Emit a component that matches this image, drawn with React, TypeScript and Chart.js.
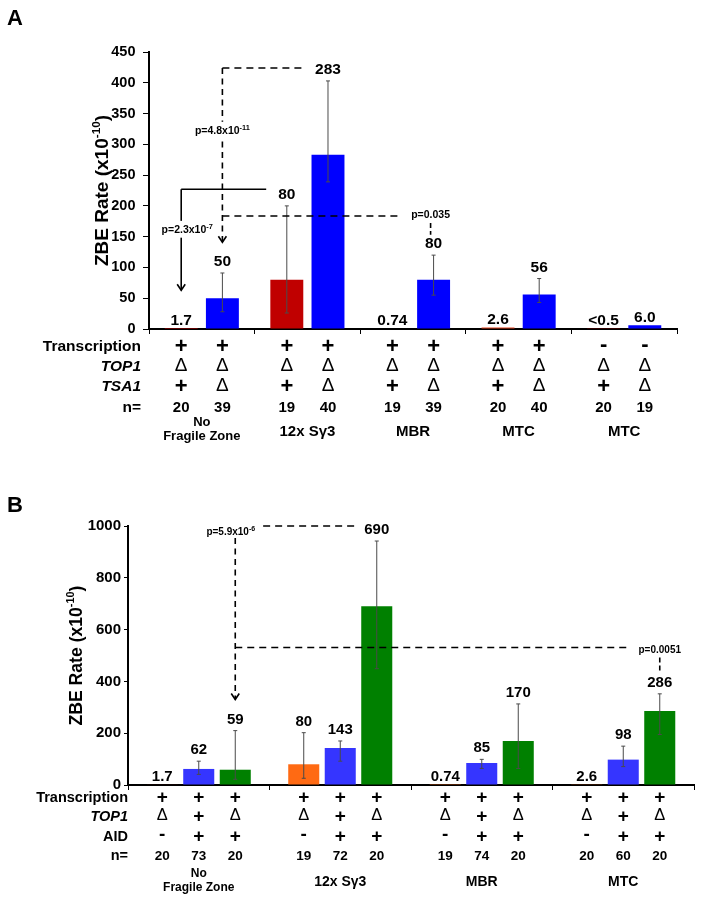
import React, { useEffect, useRef } from "react";
import { Chart, registerables } from "chart.js";

Chart.register(...registerables);

const FONT = '"Liberation Sans", Arial, Helvetica, sans-serif';

// ===================== Panel A data =====================
const groupsA = [["No", "Fragile Zone"], ["12x Sγ3"], ["MBR"], ["MTC"], ["MTC"]];
const tsa1PlusA = [1.7, 80, 0.74, 2.6, 0.5];
const tsa1DeltaA = [50, 283, 80, 56, 6.0];
const labelsPlusA = ["1.7", "80", "0.74", "2.6", "<0.5"];
const labelsDeltaA = ["50", "283", "80", "56", "6.0"];
const errLowPlusA = [null, 26, null, null, null];
const errHighPlusA = [null, 200, null, null, null];
const errLowDeltaA = [28, 239, 55, 43, null];
const errHighDeltaA = [91, 403, 120, 82, null];
const colorsPlusA = ["#c00000", "#c00000", "#c00000", "#e0401c", "#c00000"];
const colorDeltaA = "#0000ff";
const transcriptionA = ["+", "+", "+", "+", "+", "+", "+", "+", "-", "-"];
const top1A = ["Δ", "Δ", "Δ", "Δ", "Δ", "Δ", "Δ", "Δ", "Δ", "Δ"];
const tsa1A = ["+", "Δ", "+", "Δ", "+", "Δ", "+", "Δ", "+", "Δ"];
const nA = ["20", "39", "19", "40", "19", "39", "20", "40", "20", "19"];
const yMaxA = 450;
const yStepA = 50;
// significance annotations (values on the y scale)
const pLevelsA = [227, 424, 183.5];
const pTipsA = [63, 141, 153];
const pTextYA = [162, 323, 186];
const pMainA = ["p=2.3x10", "p=4.8x10", "p=0.035"];
const pExpA = ["-7", "-11", ""];

// ===================== Panel B data =====================
const groupsB = [["No", "Fragile Zone"], ["12x Sγ3"], ["MBR"], ["MTC"]];
const aidMinusB = [1.7, 80, 0.74, 2.6];
const top1PlusB = [62, 143, 85, 98];
const top1DeltaAidB = [59, 690, 170, 286];
const labelsMinusB = ["1.7", "80", "0.74", "2.6"];
const labelsPlusB = ["62", "143", "85", "98"];
const labelsDeltaB = ["59", "690", "170", "286"];
const errLowMinusB = [null, 26, null, null];
const errHighMinusB = [null, 202, null, null];
const errLowPlusB = [41, 92, 64, 71];
const errHighPlusB = [92, 170, 99, 150];
const errLowDeltaB = [22, 449, 64, 195];
const errHighDeltaB = [210, 942, 313, 352];
const colorMinusB = ["#e03010", "#ff6a13", "#ff6a13", "#ff6a13"];
const colorPlusB = "#3535ff";
const colorDeltaB = "#008000";
const transcriptionB = ["+", "+", "+", "+", "+", "+", "+", "+", "+", "+", "+", "+"];
const top1B = ["Δ", "+", "Δ", "Δ", "+", "Δ", "Δ", "+", "Δ", "Δ", "+", "Δ"];
const aidB = ["-", "+", "+", "-", "+", "+", "-", "+", "+", "-", "+", "+"];
const nB = ["20", "73", "20", "19", "72", "20", "19", "74", "20", "20", "60", "20"];
const yMaxB = 1000;
const yStepB = 200;
const pLevelsB = [1000, 531];
const pTipsB = [330, 439];
const pStartB = [954, 492];
const pMainB = ["p=5.9x10", "p=0.0051"];
const pExpB = ["-6", ""];

// ===================== helpers =====================
function line(ctx: any, x1: number, y1: number, x2: number, y2: number, dash: number[], w = 1.6) {
  ctx.save();
  ctx.strokeStyle = "#000";
  ctx.lineWidth = w;
  ctx.setLineDash(dash);
  ctx.beginPath();
  ctx.moveTo(x1, y1);
  ctx.lineTo(x2, y2);
  ctx.stroke();
  ctx.restore();
}

function arrowDown(ctx: any, x: number, y: number) {
  ctx.save();
  ctx.strokeStyle = "#000";
  ctx.lineWidth = 1.6;
  ctx.setLineDash([]);
  ctx.beginPath();
  ctx.moveTo(x - 4, y - 6);
  ctx.lineTo(x, y);
  ctx.lineTo(x + 4, y - 6);
  ctx.stroke();
  ctx.restore();
}

function measureP(ctx: any, main: string, exp: string, size: number) {
  ctx.font = `bold ${size}px ${FONT}`;
  const w1 = ctx.measureText(main).width;
  ctx.font = `bold ${size * 0.7}px ${FONT}`;
  const w2 = exp ? ctx.measureText(exp).width : 0;
  return w1 + w2;
}

function pLabel(ctx: any, cx: number, cy: number, main: string, exp: string, size: number, bg: boolean) {
  const w = measureP(ctx, main, exp, size);
  const x0 = cx - w / 2;
  if (bg) {
    ctx.fillStyle = "#fff";
    ctx.fillRect(x0 - 2, cy - size * 0.8, w + 4, size * 1.6);
  }
  ctx.fillStyle = "#000";
  ctx.textAlign = "left";
  ctx.textBaseline = "alphabetic";
  const base = cy + size * 0.36;
  ctx.font = `bold ${size}px ${FONT}`;
  ctx.fillText(main, x0, base);
  const w1 = ctx.measureText(main).width;
  if (exp) {
    ctx.font = `bold ${size * 0.7}px ${FONT}`;
    ctx.fillText(exp, x0 + w1, base - size * 0.42);
  }
  return { left: x0, right: x0 + w };
}

function drawYTitle(ctx: any, cx: number, cy: number, size: number) {
  ctx.save();
  ctx.translate(cx, cy);
  ctx.rotate(-Math.PI / 2);
  const main = "ZBE Rate (x10";
  const sup = "-10";
  const close = ")";
  const f1 = `bold ${size}px ${FONT}`;
  const f2 = `bold ${size * 0.62}px ${FONT}`;
  ctx.font = f1;
  const w1 = ctx.measureText(main).width;
  const w3 = ctx.measureText(close).width;
  ctx.font = f2;
  const w2 = ctx.measureText(sup).width;
  let x = -(w1 + w2 + w3) / 2;
  const base = size * 0.36;
  ctx.fillStyle = "#000";
  ctx.textAlign = "left";
  ctx.textBaseline = "alphabetic";
  ctx.font = f1;
  ctx.fillText(main, x, base);
  x += w1;
  ctx.font = f2;
  ctx.fillText(sup, x, base - size * 0.42);
  x += w2;
  ctx.font = f1;
  ctx.fillText(close, x, base);
  ctx.restore();
}

function makePlugin(spec: any) {
  return {
    id: "custom" + spec.letter,
    afterDraw(chart: any) {
      const ctx = chart.ctx;
      const xs = chart.scales.x;
      const ys = chart.scales.y;
      const bx = (d: number, g: number) => chart.getDatasetMeta(d).data[g].x;
      const bt = (d: number, g: number) => chart.getDatasetMeta(d).data[g].y;
      const py = (v: number) => ys.getPixelForValue(v);
      ctx.save();

      // error bars
      spec.errLow.forEach((lows: any[], d: number) =>
        lows.forEach((lo: any, g: number) => {
          const hi = spec.errHigh[d][g];
          if (lo == null || hi == null) return;
          const x = bx(d, g);
          ctx.strokeStyle = "#4a4a4a";
          ctx.lineWidth = 1;
          ctx.setLineDash([]);
          ctx.beginPath();
          ctx.moveTo(x, py(lo));
          ctx.lineTo(x, py(hi));
          ctx.moveTo(x - 2, py(lo));
          ctx.lineTo(x + 2, py(lo));
          ctx.moveTo(x - 2, py(hi));
          ctx.lineTo(x + 2, py(hi));
          ctx.stroke();
        })
      );

      // value labels
      const boxes: any[] = [];
      ctx.fillStyle = "#000";
      ctx.textAlign = "center";
      ctx.textBaseline = "alphabetic";
      spec.valueLabels.forEach((labs: string[], d: number) => {
        boxes[d] = [];
        labs.forEach((t: string, g: number) => {
          const hi = spec.errHigh[d][g];
          const base = hi != null ? py(hi) - 7 : Math.min(bt(d, g), ys.bottom - 1) - 3;
          const x = bx(d, g);
          ctx.font = `bold ${spec.valueSize}px ${FONT}`;
          const w = ctx.measureText(t).width;
          ctx.fillText(t, x, base);
          boxes[d][g] = { left: x - w / 2, right: x + w / 2, top: base - spec.valueSize * 0.72, base };
        });
      });

      // annotations
      spec.annotate(ctx, { bx, py, boxes });

      // table
      const cols: number[] = [];
      const nG = chart.data.labels.length;
      const nD = chart.data.datasets.length;
      for (let g = 0; g < nG; g++) for (let d = 0; d < nD; d++) cols.push(bx(d, g));
      ctx.fillStyle = "#000";
      spec.rows.forEach((row: any, r: number) => {
        const y = ys.bottom + spec.rowOffsets[r];
        ctx.font = `${row.italic ? "italic " : ""}bold ${spec.rowLabelSize}px ${FONT}`;
        ctx.textAlign = "right";
        ctx.textBaseline = "middle";
        ctx.fillText(row.label, spec.labelRight, y);
        ctx.textAlign = "center";
        row.values.forEach((v: string, i: number) => {
          let dy = 0;
          if (v === "+") ctx.font = `bold ${spec.plusSize}px ${FONT}`;
          else if (v === "Δ") {
            ctx.font = `${spec.deltaSize}px ${FONT}`;
            dy = -1;
          } else if (v === "-") {
            ctx.font = `bold ${spec.plusSize}px ${FONT}`;
            dy = -2;
          } else ctx.font = `bold ${spec.nSize}px ${FONT}`;
          ctx.fillText(v, cols[i], y + dy);
        });
      });

      // group labels
      spec.groups.forEach((lines: string[], g: number) => {
        const x = xs.getPixelForValue(g);
        ctx.textAlign = "center";
        ctx.textBaseline = "middle";
        if (lines.length === 2) {
          ctx.font = `bold ${spec.smallGroupSize}px ${FONT}`;
          ctx.fillText(lines[0], x, ys.bottom + spec.groupOffsets[0]);
          ctx.fillText(lines[1], x, ys.bottom + spec.groupOffsets[1]);
        } else {
          ctx.font = `bold ${spec.groupSize}px ${FONT}`;
          ctx.fillText(lines[0], x, ys.bottom + spec.groupOffsets[2]);
        }
      });

      // panel letter and y title
      ctx.font = `bold 22px ${FONT}`;
      ctx.textAlign = "left";
      ctx.textBaseline = "alphabetic";
      ctx.fillText(spec.letter, 7, spec.letterBase);
      drawYTitle(ctx, spec.titleX, (ys.top + ys.bottom) / 2, spec.titleSize);
      ctx.restore();
    },
  };
}

const annotateA = (ctx: any, h: any) => {
  const { bx, py, boxes } = h;
  // 1: solid bracket p=2.3x10^-7
  const x1 = bx(0, 0);
  const y1 = py(pLevelsA[0]);
  line(ctx, x1, y1, boxes[0][1].left - 12, y1, []);
  line(ctx, x1, y1, x1, py(pTipsA[0]), []);
  arrowDown(ctx, x1, py(pTipsA[0]));
  // 2: dashed p=4.8x10^-11
  const x2 = bx(1, 0);
  const y2 = py(pLevelsA[1]);
  line(ctx, x2, y2, boxes[1][1].left - 10, y2, [7, 5]);
  line(ctx, x2, y2, x2, py(pTipsA[1]), [6, 4.5]);
  arrowDown(ctx, x2, py(pTipsA[1]));
  // 3: dashed p=0.035
  const y3 = py(pLevelsA[2]);
  const x3 = bx(1, 2) - 3;
  const w3 = measureP(ctx, pMainA[2], pExpA[2], 10.5);
  line(ctx, x2, y3, x3 - w3 / 2 - 10, y3, [7, 5]);
  line(ctx, x3, py(172), x3, py(pTipsA[2]), [5, 3]);
  // labels
  pLabel(ctx, x1 + 6, py(pTextYA[0]), pMainA[0], pExpA[0], 10.5, true);
  pLabel(ctx, x2, py(pTextYA[1]), pMainA[1], pExpA[1], 10.5, true);
  pLabel(ctx, x3, py(pTextYA[2]), pMainA[2], pExpA[2], 10.5, true);
};

const annotateB = (ctx: any, h: any) => {
  const { bx, py, boxes } = h;
  // 1: p=5.9x10^-6
  const x1 = bx(2, 0);
  const y1 = py(pLevelsB[0]);
  const lb = pLabel(ctx, x1 - 4.5, y1 + 5.5, pMainB[0], pExpB[0], 10, false);
  line(ctx, lb.right + 8, y1, boxes[2][1].left - 6, y1, [7, 5]);
  line(ctx, x1, py(pStartB[0]), x1, py(pTipsB[0]), [6, 4.5]);
  arrowDown(ctx, x1, py(pTipsB[0]));
  // 2: p=0.0051
  const y2 = py(pLevelsB[1]);
  const x2 = bx(2, 3);
  const w2 = measureP(ctx, pMainB[1], pExpB[1], 10);
  line(ctx, x1, y2, x2 - w2 / 2 - 9, y2, [7, 5]);
  line(ctx, x2, py(pStartB[1]), x2, py(pTipsB[1]), [5, 3]);
  pLabel(ctx, x2, y2 + 2, pMainB[1], pExpB[1], 10, false);
};

const specA = {
  letter: "A",
  letterBase: 25,
  titleX: 101,
  titleSize: 19,
  valueSize: 15.5,
  errLow: [errLowPlusA, errLowDeltaA],
  errHigh: [errHighPlusA, errHighDeltaA],
  valueLabels: [labelsPlusA, labelsDeltaA],
  annotate: annotateA,
  rows: [
    { label: "Transcription", italic: false, values: transcriptionA },
    { label: "TOP1", italic: true, values: top1A },
    { label: "TSA1", italic: true, values: tsa1A },
    { label: "n=", italic: false, values: nA },
  ],
  rowOffsets: [17.7, 37.7, 57.7, 78.7],
  labelRight: 141,
  rowLabelSize: 15.5,
  plusSize: 22,
  deltaSize: 19,
  nSize: 15,
  groups: groupsA,
  groupOffsets: [93, 107, 102.7],
  smallGroupSize: 13,
  groupSize: 15,
};

const specB = {
  letter: "B",
  letterBase: 60,
  titleX: 75.5,
  titleSize: 17.6,
  valueSize: 15,
  errLow: [errLowMinusB, errLowPlusB, errLowDeltaB],
  errHigh: [errHighMinusB, errHighPlusB, errHighDeltaB],
  valueLabels: [labelsMinusB, labelsPlusB, labelsDeltaB],
  annotate: annotateB,
  rows: [
    { label: "Transcription", italic: false, values: transcriptionB },
    { label: "TOP1", italic: true, values: top1B },
    { label: "AID", italic: false, values: aidB },
    { label: "n=", italic: false, values: nB },
  ],
  rowOffsets: [12.7, 31.7, 51.7, 71],
  labelRight: 128,
  rowLabelSize: 14.5,
  plusSize: 19,
  deltaSize: 16.5,
  nSize: 13.5,
  groups: groupsB,
  groupOffsets: [88.3, 102.7, 97],
  smallGroupSize: 12,
  groupSize: 14,
};

function xScale(height: number) {
  return {
    grid: { display: true, drawOnChartArea: false, drawTicks: true, offset: true, tickLength: 5, color: "#000", lineWidth: 1 },
    border: { display: true, color: "#000", width: 2 },
    ticks: { display: false },
    afterFit: (s: any) => {
      s.height = height;
    },
  };
}

function yScale(max: number, step: number, width: number, font: number, tickLen: number, pad: number) {
  return {
    min: 0,
    max,
    ticks: {
      stepSize: step,
      padding: pad,
      color: "#000",
      font: { family: FONT, size: font, weight: "bold" },
      callback: (v: any) => String(v),
    },
    grid: { display: true, drawOnChartArea: false, drawTicks: true, tickLength: tickLen, color: "#000", lineWidth: 1 },
    border: { display: true, color: "#000", width: 2 },
    afterFit: (s: any) => {
      s.width = width;
    },
  };
}

export default function App() {
  const refA = useRef<HTMLCanvasElement>(null);
  const refB = useRef<HTMLCanvasElement>(null);

  useEffect(() => {
    const chartA = new Chart(refA.current as HTMLCanvasElement, {
      type: "bar",
      data: {
        labels: groupsA.map((g) => g.join(" ")),
        datasets: [
          { data: tsa1PlusA, backgroundColor: colorsPlusA, categoryPercentage: 0.78, barPercentage: 0.8 },
          { data: tsa1DeltaA, backgroundColor: colorDeltaA, categoryPercentage: 0.78, barPercentage: 0.8 },
        ],
      },
      options: {
        responsive: false,
        animation: false,
        devicePixelRatio: 1,
        layout: { padding: { left: 0, right: 27, top: 52, bottom: 0 } },
        plugins: { legend: { display: false }, tooltip: { enabled: false } },
        scales: {
          x: xScale(123) as any,
          y: yScale(yMaxA, yStepA, 149, 14.5, 6, 7.5) as any,
        },
      },
      plugins: [makePlugin(specA)],
    });

    const chartB = new Chart(refB.current as HTMLCanvasElement, {
      type: "bar",
      data: {
        labels: groupsB.map((g) => g.join(" ")),
        datasets: [
          { data: aidMinusB, backgroundColor: colorMinusB, categoryPercentage: 0.774, barPercentage: 0.85 },
          { data: top1PlusB, backgroundColor: colorPlusB, categoryPercentage: 0.774, barPercentage: 0.85 },
          { data: top1DeltaAidB, backgroundColor: colorDeltaB, categoryPercentage: 0.774, barPercentage: 0.85 },
        ],
      },
      options: {
        responsive: false,
        animation: false,
        devicePixelRatio: 1,
        layout: { padding: { left: 0, right: 10, top: 74, bottom: 0 } },
        plugins: { legend: { display: false }, tooltip: { enabled: false } },
        scales: {
          x: xScale(118) as any,
          y: yScale(yMaxB, yStepB, 128, 15, 4, 3) as any,
        },
      },
      plugins: [makePlugin(specB)],
    });

    return () => {
      chartA.destroy();
      chartB.destroy();
    };
  }, []);

  return (
    <div style={{ position: "absolute", left: 0, top: 0, width: 704, height: 903, background: "#fff" }}>
      <canvas ref={refA} width={704} height={452} style={{ position: "absolute", left: 0, top: 0, width: 704, height: 452 }} />
      <canvas ref={refB} width={704} height={451} style={{ position: "absolute", left: 0, top: 452, width: 704, height: 451 }} />
    </div>
  );
}
